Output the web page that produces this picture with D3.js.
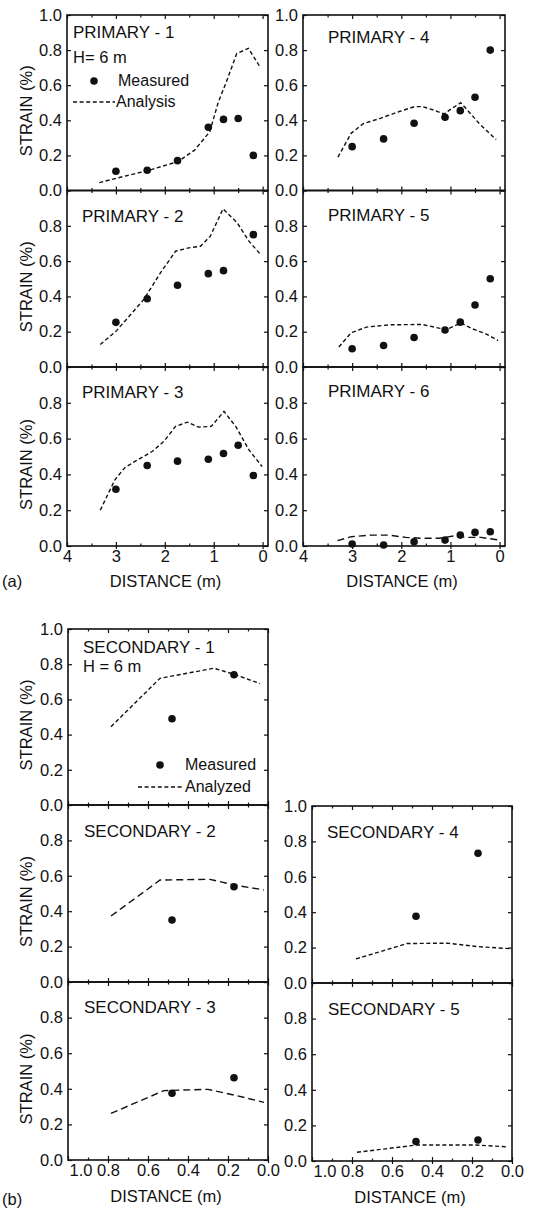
<!DOCTYPE html>
<html><head><meta charset="utf-8">
<script src="https://cdn.jsdelivr.net/npm/d3@7"></script>
<style>
body{margin:0;background:#fff}
svg text{font-family:"Liberation Sans",Arial,Helvetica,sans-serif;fill:#111}
</style>
</head><body><svg id="chart" width="533" height="1209"></svg>
<script>
// ---------------- DATA ----------------
const primaryDistance = [3.0, 2.36, 1.74, 1.11, 0.80, 0.50, 0.19];
const p1Measured = [0.11, 0.115, 0.17, 0.36, 0.405, 0.41, 0.20];
const p2Measured = [0.253, 0.387, 0.463, 0.529, 0.546, 0.75];
const p2Distance = [3.0, 2.36, 1.74, 1.11, 0.80, 0.19];
const p3Measured = [0.317, 0.45, 0.474, 0.485, 0.517, 0.563, 0.394];
const p4Measured = [0.25, 0.294, 0.383, 0.417, 0.455, 0.531, 0.80];
const p5Measured = [0.103, 0.122, 0.167, 0.21, 0.254, 0.351, 0.50];
const p6Measured = [0.011, 0.006, 0.024, 0.033, 0.061, 0.076, 0.08];

const p1Analysis = [[3.34,0.045],[2.99,0.07],[2.34,0.114],[1.73,0.165],[1.39,0.23],[1.08,0.335],[0.91,0.5],[0.74,0.62],[0.53,0.78],[0.29,0.81],[0.055,0.705]];
const p2Analysis = [[3.32,0.127],[3.0,0.202],[2.43,0.382],[2.09,0.533],[1.78,0.656],[1.51,0.675],[1.27,0.684],[1.07,0.741],[0.81,0.896],[0.52,0.817],[0.28,0.713],[0.04,0.637]];
const p3Analysis = [[3.32,0.2],[3.02,0.37],[2.81,0.44],[2.5,0.49],[2.26,0.528],[2.02,0.584],[1.78,0.668],[1.54,0.692],[1.31,0.664],[1.05,0.668],[0.79,0.752],[0.55,0.668],[0.28,0.537],[0.01,0.444]];
const p4Analysis = [[3.29,0.19],[3.02,0.326],[2.78,0.38],[2.44,0.41],[2.04,0.45],[1.73,0.478],[1.57,0.478],[1.36,0.46],[1.13,0.436],[0.96,0.47],[0.79,0.5],[0.66,0.46],[0.42,0.383],[0.07,0.29]];
const p5Analysis = [[3.27,0.113],[3.02,0.194],[2.71,0.226],[2.24,0.239],[1.57,0.241],[1.23,0.22],[1.08,0.212],[0.79,0.25],[0.55,0.216],[0.28,0.188],[0.03,0.15]];
const p6Analysis = [[3.3,0.03],[3.02,0.052],[2.6,0.061],[2.26,0.061],[1.91,0.048],[1.56,0.043],[1.22,0.043],[0.94,0.056],[0.66,0.048],[0.38,0.048],[0.03,0.034]];

const secondaryDistance = [0.48, 0.17];
const s1Measured = [0.49, 0.74];
const s2Measured = [0.35, 0.538];
const s3Measured = [0.375, 0.462];
const s4Measured = [0.377, 0.733];
const s5Measured = [0.109, 0.118];

const s1Analyzed = [[0.785,0.445],[0.54,0.72],[0.27,0.777],[0.17,0.743],[0.04,0.69]];
const s2Analyzed = [[0.785,0.373],[0.54,0.576],[0.29,0.58],[0.17,0.548],[0.02,0.52]];
const s3Analyzed = [[0.785,0.262],[0.52,0.39],[0.3,0.397],[0.17,0.365],[0.02,0.324]];
const s4Analyzed = [[0.78,0.136],[0.525,0.223],[0.325,0.225],[0.175,0.206],[0.0,0.193]];
const s5Analyzed = [[0.775,0.049],[0.475,0.09],[0.19,0.09],[0.025,0.08]];

const primaryXTicks = [4, 3, 2, 1, 0];
const primaryXMinor = [3.5, 2.5, 1.5, 0.5];
const secondaryXTicks = [1.0, 0.8, 0.6, 0.4, 0.2, 0.0];
const secondaryXMinor = [0.9, 0.7, 0.5, 0.3, 0.1];
const yTicks = [0.0, 0.2, 0.4, 0.6, 0.8];
const yTicksTop = [0.0, 0.2, 0.4, 0.6, 0.8, 1.0];

// ---------------- LAYOUT ----------------
const FONT = 16.5;
const SHORT = "4,2.6", LONG = "7,4";
const svg = d3.select("#chart");

const panels = [
  {title:"PRIMARY - 1", x0:67, x1:268, y0:15, y1:190.5, dom:[4,-0.11], xt:primaryXTicks, xm:primaryXMinor, dx:primaryDistance, m:p1Measured, a:p1Analysis, dash:SHORT, top:true, ylab:true, tx:73, ty:38},
  {title:"PRIMARY - 2", x0:67, x1:268, y0:190.5, y1:367, dom:[4,-0.11], xt:primaryXTicks, xm:primaryXMinor, dx:p2Distance, m:p2Measured, a:p2Analysis, dash:SHORT, ylab:true, tx:82, ty:222},
  {title:"PRIMARY - 3", x0:67, x1:268, y0:367, y1:546, dom:[4,-0.11], xt:primaryXTicks, xm:primaryXMinor, dx:primaryDistance, m:p3Measured, a:p3Analysis, dash:SHORT, bottom:true, ylab:true, tx:82, ty:398},
  {title:"PRIMARY - 4", x0:303, x1:505, y0:15, y1:190.5, dom:[4,-0.11], xt:primaryXTicks, xm:primaryXMinor, dx:primaryDistance, m:p4Measured, a:p4Analysis, dash:SHORT, top:true, tx:328, ty:43},
  {title:"PRIMARY - 5", x0:303, x1:505, y0:190.5, y1:367, dom:[4,-0.11], xt:primaryXTicks, xm:primaryXMinor, dx:primaryDistance, m:p5Measured, a:p5Analysis, dash:SHORT, tx:328, ty:221},
  {title:"PRIMARY - 6", x0:303, x1:505, y0:367, y1:546, dom:[4,-0.11], xt:primaryXTicks, xm:primaryXMinor, dx:primaryDistance, m:p6Measured, a:p6Analysis, dash:LONG, bottom:true, tx:328, ty:397},
  {title:"SECONDARY - 1", x0:68, x1:268, y0:629, y1:805, dom:[1,0], xt:secondaryXTicks, xm:secondaryXMinor, dx:secondaryDistance, m:s1Measured, a:s1Analyzed, dash:SHORT, top:true, ylab:true, tx:83, ty:653},
  {title:"SECONDARY - 2", x0:68, x1:268, y0:805, y1:982, dom:[1,0], xt:secondaryXTicks, xm:secondaryXMinor, dx:secondaryDistance, m:s2Measured, a:s2Analyzed, dash:LONG, ylab:true, tx:84, ty:837},
  {title:"SECONDARY - 3", x0:68, x1:268, y0:982, y1:1160, dom:[1,0], xt:secondaryXTicks, xm:secondaryXMinor, dx:secondaryDistance, m:s3Measured, a:s3Analyzed, dash:LONG, bottom:true, ylab:true, tx:84, ty:1013},
  {title:"SECONDARY - 4", x0:312, x1:512, y0:806, y1:983, dom:[1,0], xt:secondaryXTicks, xm:secondaryXMinor, dx:secondaryDistance, m:s4Measured, a:s4Analyzed, dash:SHORT, top:true, tx:327, ty:838},
  {title:"SECONDARY - 5", x0:312, x1:512, y0:983, y1:1161, dom:[1,0], xt:secondaryXTicks, xm:secondaryXMinor, dx:secondaryDistance, m:s5Measured, a:s5Analyzed, dash:SHORT, bottom:true, tx:328, ty:1015}
];

function styleAxis(g){
  g.select(".domain").remove();
  g.selectAll("line").attr("stroke","#111").attr("stroke-width",1.2);
  g.selectAll("text").attr("font-size",FONT).attr("font-family","Liberation Sans, Arial, sans-serif").attr("fill","#111");
  g.attr("font-size",FONT).attr("font-family","Liberation Sans, Arial, sans-serif");
}

panels.forEach(p => {
  const x = d3.scaleLinear().domain(p.dom).range([p.x0, p.x1]);
  const y = d3.scaleLinear().domain([0,1]).range([p.y1, p.y0]);
  const g = svg.append("g");

  // y axes
  g.append("g").attr("transform",`translate(${p.x0},0)`)
    .call(d3.axisLeft(y).tickValues(p.top ? yTicksTop : yTicks).tickSize(-4).tickPadding(5).tickFormat(d3.format(".1f")))
    .call(styleAxis);
  g.append("g").attr("transform",`translate(${p.x1},0)`)
    .call(d3.axisRight(y).tickValues(yTicksTop).tickSize(-4).tickFormat(""))
    .call(styleAxis);
  // x axes (bottom & top, major & minor)
  const secondary = p.dom[0] === 1;
  const xb = g.append("g").attr("transform",`translate(0,${p.y1})`)
    .call(d3.axisBottom(x).tickValues(p.xt).tickSize(-4).tickPadding(4)
      .tickFormat(p.bottom ? (secondary ? d3.format(".1f") : d3.format("d")) : ""))
    .call(styleAxis);
  if (p.bottom && secondary) {
    // first label ("1.0") is set to the right of its tick, as in the original
    xb.selectAll(".tick text").filter(d => d === 1).attr("text-anchor","start").attr("x",1);
  }
  g.append("g").attr("transform",`translate(0,${p.y1})`)
    .call(d3.axisBottom(x).tickValues(p.xm).tickSize(-2.5).tickFormat("")).call(styleAxis);
  g.append("g").attr("transform",`translate(0,${p.y0})`)
    .call(d3.axisTop(x).tickValues(p.xt).tickSize(-4).tickFormat("")).call(styleAxis);
  g.append("g").attr("transform",`translate(0,${p.y0})`)
    .call(d3.axisTop(x).tickValues(p.xm).tickSize(-2.5).tickFormat("")).call(styleAxis);
  if (p.bottom) {
    g.append("g").attr("transform",`translate(0,${p.y1})`)
      .call(d3.axisBottom(x).tickValues(p.xt.filter(v => v !== p.xt[0])).tickSize(3).tickFormat("")).call(styleAxis);
  }

  // frame
  g.append("rect").attr("x",p.x0).attr("y",p.y0).attr("width",p.x1-p.x0).attr("height",p.y1-p.y0)
    .attr("fill","none").attr("stroke","#111").attr("stroke-width",1.6);

  // analysis line
  g.append("path").datum(p.a)
    .attr("d", d3.line().x(d => x(d[0])).y(d => y(d[1])))
    .attr("fill","none").attr("stroke","#111").attr("stroke-width",1.4)
    .attr("stroke-dasharray", p.dash);

  // measured points
  g.selectAll("circle.m").data(p.m).join("circle").attr("class","m")
    .attr("cx",(d,i) => x(p.dx[i])).attr("cy", d => y(d)).attr("r",3.8).attr("fill","#111");

  // title
  g.append("text").attr("x",p.tx).attr("y",p.ty).attr("font-size",17).text(p.title);

  // y label
  if (p.ylab) {
    const cy = (p.y0 + p.y1)/2 + 8;
    g.append("text").attr("transform",`translate(26,${cy}) rotate(-90)`)
      .attr("text-anchor","middle").attr("dominant-baseline","central").attr("font-size",FONT).text("STRAIN (%)");
  }
  if (p.bottom) {
    g.append("text").attr("x",(p.x0+p.x1)/2 - 2).attr("y", p.y1 + (secondary ? 42 : 41))
      .attr("text-anchor","middle").attr("font-size",FONT).text("DISTANCE (m)");
  }
});

// legends and annotations
svg.append("text").attr("x",73).attr("y",63).attr("font-size",16.5).text("H= 6 m");
svg.append("circle").attr("cx",94).attr("cy",81).attr("r",3.8).attr("fill","#111");
svg.append("text").attr("x",118).attr("y",86).attr("font-size",16).text("Measured");
svg.append("line").attr("x1",73).attr("x2",115).attr("y1",102).attr("y2",102).attr("stroke","#111").attr("stroke-width",1.4).attr("stroke-dasharray",SHORT);
svg.append("text").attr("x",116).attr("y",107).attr("font-size",16).text("Analysis");

svg.append("text").attr("x",83).attr("y",672).attr("font-size",16.5).text("H = 6 m");
svg.append("circle").attr("cx",160).attr("cy",765).attr("r",3.8).attr("fill","#111");
svg.append("text").attr("x",185).attr("y",770).attr("font-size",16).text("Measured");
svg.append("line").attr("x1",138).attr("x2",183).attr("y1",787).attr("y2",787).attr("stroke","#111").attr("stroke-width",1.4).attr("stroke-dasharray",SHORT);
svg.append("text").attr("x",185).attr("y",792).attr("font-size",16).text("Analyzed");

svg.append("text").attr("x",2).attr("y",587).attr("font-size",16.5).text("(a)");
svg.append("text").attr("x",2).attr("y",1205).attr("font-size",16.5).text("(b)");
</script>
</body></html>
